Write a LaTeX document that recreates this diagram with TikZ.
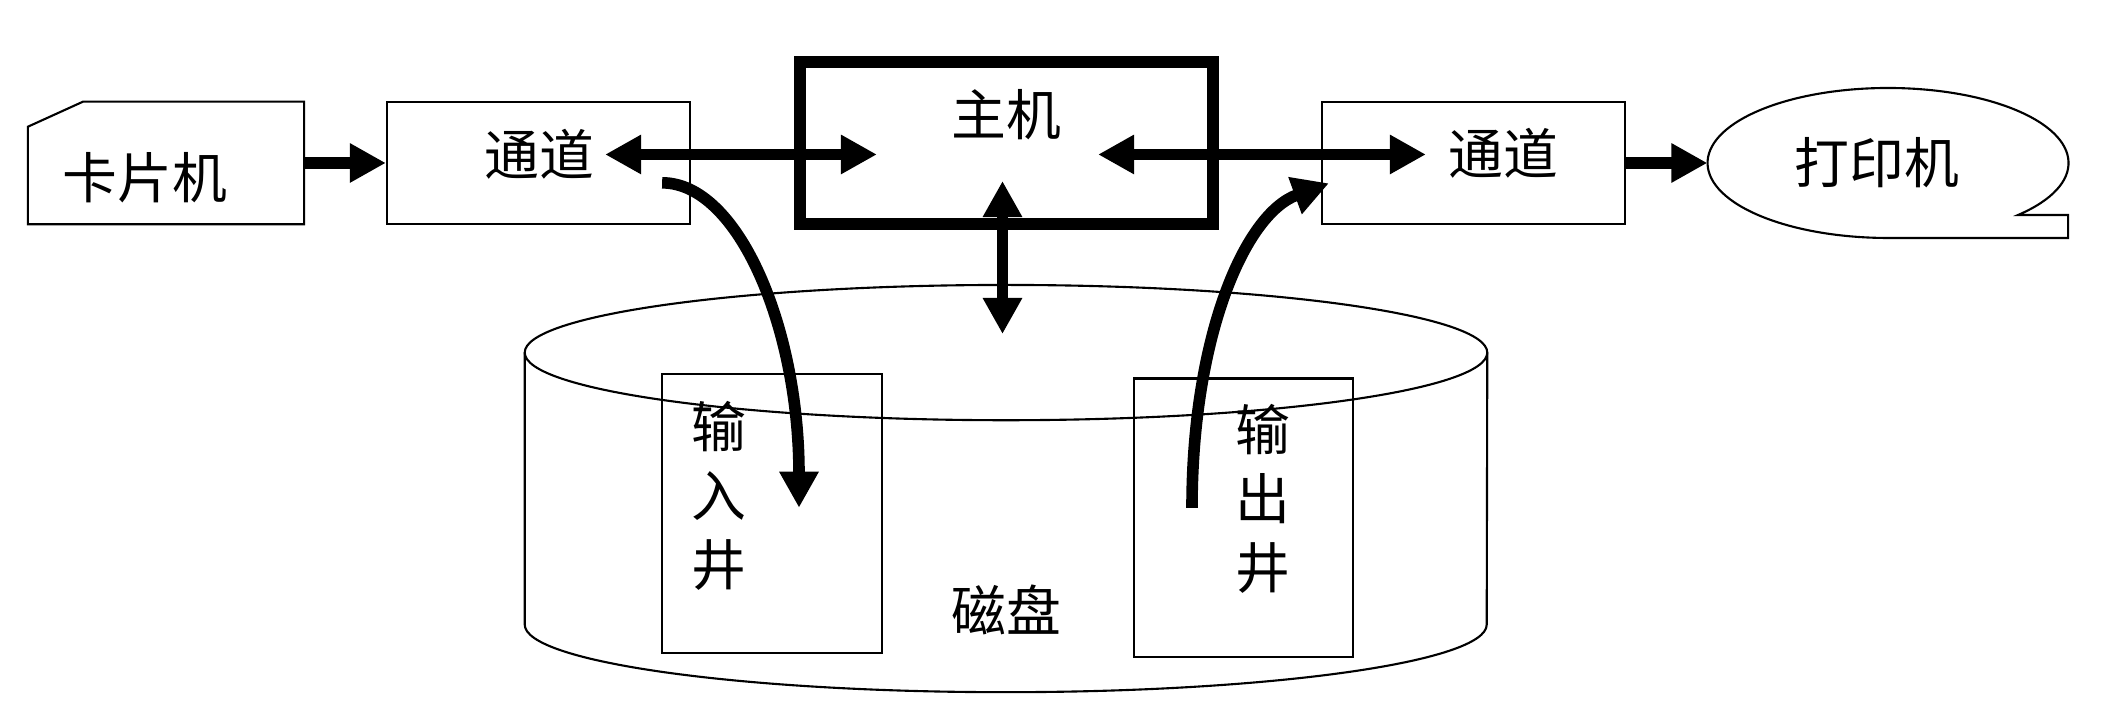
\documentclass[tikz,border=0pt]{standalone}
\usepackage{fontspec}
\newfontfamily\cjk{Noto Sans CJK SC}
\usetikzlibrary{arrows.meta,shapes.geometric,calc}
\begin{document}
\begin{tikzpicture}[
    x=0.01cm, y=0.01cm,
    font=\cjk\fontsize{15.6pt}{19.6pt}\selectfont,
    >={Triangle[length=3.6mm, width=3.7mm]},
    box/.style={rectangle, draw, line width=0.6pt, minimum width=3.03cm, minimum height=1.225cm},
    well/.style={rectangle, draw, line width=0.6pt, minimum width=2.19cm, minimum height=2.785cm},
    thinline/.style={line width=0.6pt},
    flow/.style={line width=3.3pt, ->},
    dflow/.style={line width=3.3pt, <->}
]
    \useasboundingbox (0,0) rectangle (2120,704);
    \node[box, draw=none, outer sep=0pt, minimum width=2.76cm] (reader) at (166,541) {};
    \draw[thinline] (reader.south west) -- (reader.south east) -- (reader.north east)
        -- ([xshift=5.5mm]reader.north west) -- ([yshift=-2.5mm]reader.north west) -- cycle;
    \node (readerlbl) at (145,526) {卡片机};
    \node[box] (chanin) at (538.5,541) {};
    \node (chaninlbl) at (539,550) {通道};
    \node[box, line width=3.4pt, minimum width=4.13cm, minimum height=1.62cm] (host) at (1006.5,561) {};
    \node (hostlbl) at (1006,589) {主机};
    \node[box] (chanout) at (1473.5,541) {};
    \node (chanoutlbl) at (1503,551) {通道};
    \node[ellipse, outer sep=0pt, minimum width=3.61cm, minimum height=1.5cm] (printer) at (1888,541) {};
    \draw[thinline] ($(printer.center)+(130.1,-52)$) arc[start angle=-43.9, end angle=270, x radius=180.5, y radius=75]
        -- ++(180,0) -- ++(0,23) -- cycle;
    \node (printerlbl) at (1877,541) {打印机};
    \node[ellipse, draw, thinline, outer sep=0pt, minimum width=9.62cm, minimum height=1.352cm] (disk) at (1006,351.4) {};
    \draw[thinline] (disk.west) -- ++(0,-272) arc[start angle=180, end angle=360, x radius=481, y radius=67.6] -- (disk.east);
    \node (disklbl) at (1006,94) {磁盘};
    \node[well] (inwell) at (772,190.25) {};
    \node[well] (outwell) at (1243.5,186.2) {};
    \node[align=center] (inlbl) at (719,208) {输\\入\\井};
    \node[align=center] (outlbl) at (1263,205) {输\\出\\井};

    \draw[flow] (reader.east) -- (chanin.west);
    \draw[dflow] ($(chanin.east)+(-86,8.5)$) -- ($(host.west)+(83,-11.5)$);
    \draw[dflow] ($(host.east)+(-121,-11.5)$) -- ($(chanout.west)+(105,8.5)$);
    \draw[flow] (chanout.east) -- (printer.west);
    \draw[dflow] ($(host.south)+(-4,49)$) -- ($(disk.center)+(-3.5,18.6)$);
    \draw[flow] ($(chanin.south east)+(-29,42.5)$) .. controls +(76,0) and +(0,180) .. ($(inwell.center)+(27,6)$);
    \draw[flow] ($(outwell.center)+(-51.5,10)$) .. controls +(0,170) and +(-84.6,-30.8) .. ($(chanout.south west)+(8,42)$);
\end{tikzpicture}
\end{document}
